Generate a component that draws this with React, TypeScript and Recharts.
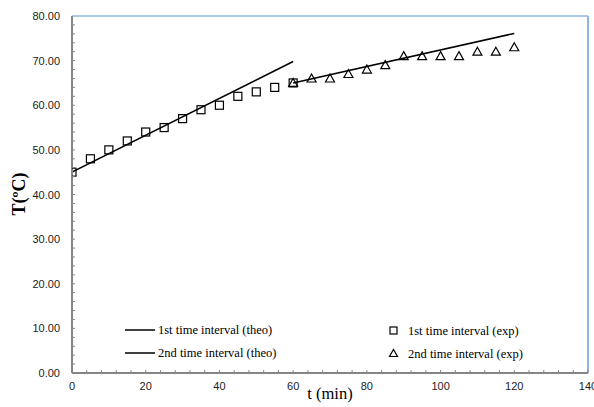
import React from 'react';
import { ComposedChart, Line, Scatter, XAxis, YAxis, ReferenceLine } from 'recharts';

const exp1T = [0, 5, 10, 15, 20, 25, 30, 35, 40, 45, 50, 55, 60];
const exp1Temp = [45, 48, 50, 52, 54, 55, 57, 59, 60, 62, 63, 64, 65];
const exp2T = [60, 65, 70, 75, 80, 85, 90, 95, 100, 105, 110, 115, 120];
const exp2Temp = [65, 66, 66, 67, 68, 69, 71, 71, 71, 71, 72, 72, 73];
const theo1T = [0, 60];
const theo1Temp = [45, 69.8];
const theo2T = [60, 120];
const theo2Temp = [65, 76.1];

const xTicks = Array.from({ length: 36 }, (_, i) => i * 4);
const yTicks = Array.from({ length: 41 }, (_, i) => i * 2);

const zip = (ts: number[], vs: number[]) => ts.map((t, i) => ({ t, v: vs[i] }));
const exp1 = zip(exp1T, exp1Temp);
const exp2 = zip(exp2T, exp2Temp);
const theo1 = zip(theo1T, theo1Temp);
const theo2 = zip(theo2T, theo2Temp);

const SANS = '"Liberation Sans", Arial, sans-serif';
const SERIF = '"Liberation Serif", "Times New Roman", serif';
const AXIS = '#868686';
const BORDER = '#8EB4E3';

const Square = (p: any) => (
  <rect x={p.cx - 4} y={p.cy - 4} width={8} height={8} fill="none" stroke="#000" strokeWidth={1.2} />
);
const Tri = (p: any) => (
  <polygon points={`${p.cx},${p.cy - 4.5} ${p.cx + 4.5},${p.cy + 3.5} ${p.cx - 4.5},${p.cy + 3.5}`} fill="none" stroke="#000" strokeWidth={1.2} />
);

const YTick = (p: any) => {
  const v = p.payload.value;
  const major = v % 10 === 0;
  return (
    <g>
      {v !== 0 && v !== 80 && <line x1={p.x} x2={p.x + 3} y1={p.y} y2={p.y} stroke={AXIS} strokeWidth={1} />}
      {major && (
        <text x={p.x - 12} y={p.y + 4} textAnchor="end" fontFamily={SANS} fontSize={11} fill="#222">
          {v.toFixed(2)}
        </text>
      )}
    </g>
  );
};

const XTick = (p: any) => {
  const v = p.payload.value;
  const major = v % 20 === 0;
  return (
    <g>
      {v !== 0 && <line x1={p.x} x2={p.x} y1={p.y} y2={p.y - 3} stroke={AXIS} strokeWidth={1} />}
      {major && (
        <text x={p.x} y={p.y + 17} textAnchor="middle" fontFamily={SANS} fontSize={11} fill="#222">
          {v}
        </text>
      )}
    </g>
  );
};

const legendText: React.CSSProperties = {
  position: 'absolute',
  fontFamily: SERIF,
  fontSize: 12.5,
  color: '#000',
  whiteSpace: 'nowrap',
  lineHeight: '14px',
};

const LegendOverlay = () => (
  <div style={{ position: 'absolute', left: 0, top: 0, width: 594, height: 407, pointerEvents: 'none' }}>
    <svg style={{ position: 'absolute', left: 0, top: 0 }} width={594} height={407}>
      <line x1={125} x2={155} y1={330} y2={330} stroke="#000" strokeWidth={1.5} />
      <line x1={125} x2={155} y1={353} y2={353} stroke="#000" strokeWidth={1.5} />
      <rect x={390} y={327} width={7} height={7} fill="none" stroke="#000" strokeWidth={1.2} />
      <polygon points="393.5,349.5 397.5,356.5 389.5,356.5" fill="none" stroke="#000" strokeWidth={1.2} />
    </svg>
    <div style={{ ...legendText, left: 158, top: 323 }}>1st time interval (theo)</div>
    <div style={{ ...legendText, left: 158, top: 346 }}>2nd time interval (theo)</div>
    <div style={{ ...legendText, left: 408, top: 324 }}>1st time interval (exp)</div>
    <div style={{ ...legendText, left: 408, top: 347 }}>2nd time interval (exp)</div>
  </div>
);

export default function App() {
  return (
    <div style={{ position: 'absolute', left: 0, top: 0, width: 594, height: 407, background: '#fff' }}>
      <ComposedChart width={594} height={407} margin={{ top: 16, right: 6, bottom: 4, left: 0 }}>
        <XAxis
          type="number"
          dataKey="t"
          domain={[0, 140]}
          ticks={xTicks}
          interval={0}
          tickSize={0}
          tickMargin={0}
          height={30}
          stroke={AXIS}
          strokeWidth={2}
          tick={<XTick />}
          allowDataOverflow
        />
        <YAxis
          type="number"
          domain={[0, 80]}
          ticks={yTicks}
          interval={0}
          tickSize={0}
          tickMargin={0}
          width={72}
          stroke={AXIS}
          strokeWidth={2}
          tick={<YTick />}
          allowDataOverflow
        />
        <ReferenceLine y={80} stroke={BORDER} strokeWidth={1.5} ifOverflow="visible" />
        <ReferenceLine x={140} stroke={BORDER} strokeWidth={2} ifOverflow="visible" />
        <Line data={theo1} dataKey="v" type="linear" stroke="#000" strokeWidth={1.5} dot={false} isAnimationActive={false} />
        <Line data={theo2} dataKey="v" type="linear" stroke="#000" strokeWidth={1.5} dot={false} isAnimationActive={false} />
        <Scatter data={exp1} dataKey="v" shape={<Square />} isAnimationActive={false} />
        <Scatter data={exp2} dataKey="v" shape={<Tri />} isAnimationActive={false} />
      </ComposedChart>
      <svg style={{ position: 'absolute', left: 0, top: 0, pointerEvents: 'none' }} width={594} height={407}>
        <text x={330} y={399} textAnchor="middle" fontFamily={SERIF} fontSize={16.5} fill="#000">
          t (min)
        </text>
        <text
          x={25}
          y={194}
          transform="rotate(-90 25 194)"
          textAnchor="middle"
          fontFamily={SERIF}
          fontSize={18}
          fontWeight="bold"
          fill="#000"
        >
          T(ºC)
        </text>
      </svg>
      <LegendOverlay />
    </div>
  );
}
